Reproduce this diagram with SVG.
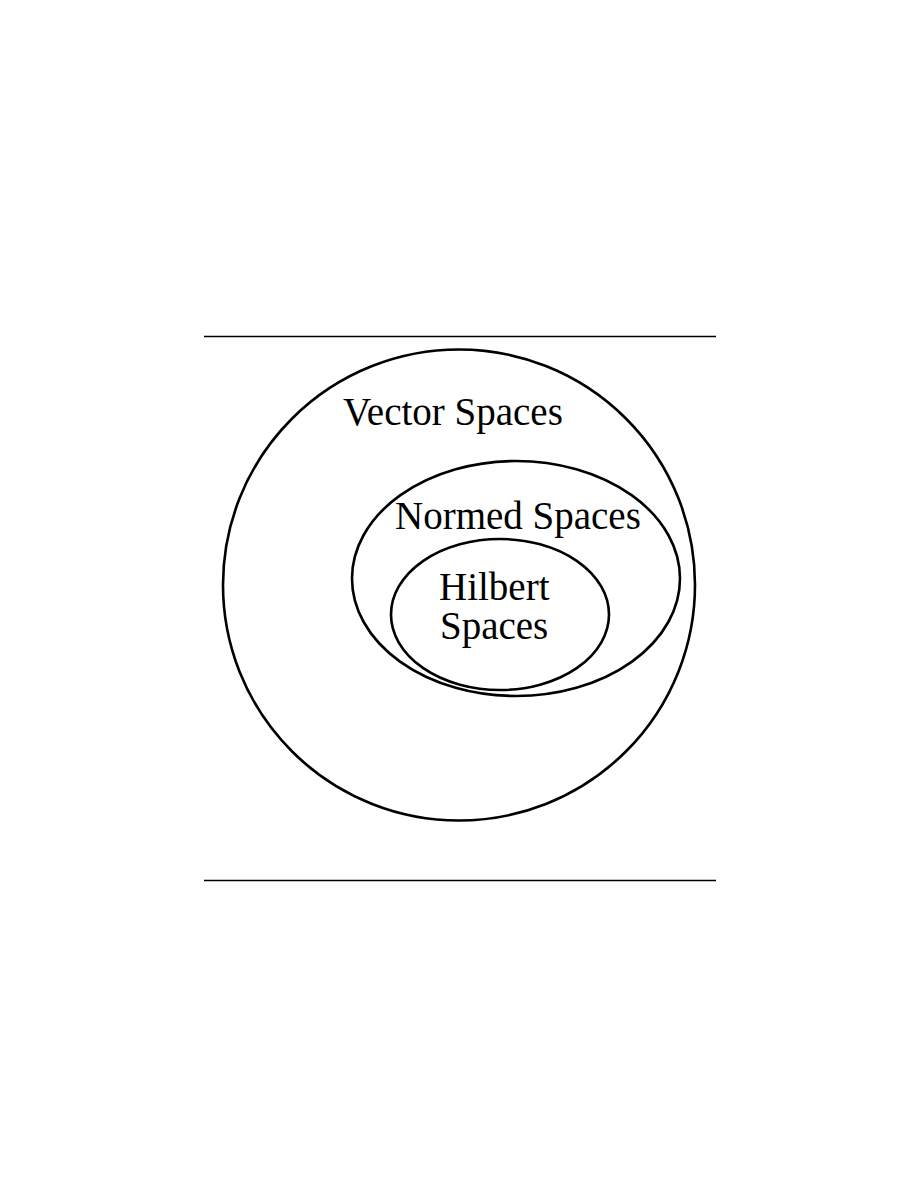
<svg xmlns="http://www.w3.org/2000/svg" width="918" height="1188" viewBox="0 0 918 1188">
<style>
.sh{fill:none;stroke:#000;stroke-width:2.6}
.rule{stroke:#000;stroke-width:1.5}
text{font-family:"Liberation Serif","Times New Roman",serif;font-size:39px;fill:#000}
</style>
<rect width="918" height="1188" fill="#fff"/>
<g id="rules">
<line class="rule" x1="204" y1="336.5" x2="716" y2="336.5"/>
<line class="rule" x1="204" y1="880.5" x2="716" y2="880.5"/>
</g>
<g id="vector">
<ellipse class="sh" cx="459" cy="585" rx="236" ry="235.5"/>
<text x="343" y="425">Vector Spaces</text>
</g>
<g id="normed">
<ellipse class="sh" cx="516" cy="578.5" rx="164" ry="117.5"/>
<text x="395" y="529">Normed Spaces</text>
</g>
<g id="hilbert">
<ellipse class="sh" cx="500" cy="614.5" rx="109" ry="75.5"/>
<text x="439" y="600">Hilbert</text>
<text x="440" y="639">Spaces</text>
</g>
</svg>
